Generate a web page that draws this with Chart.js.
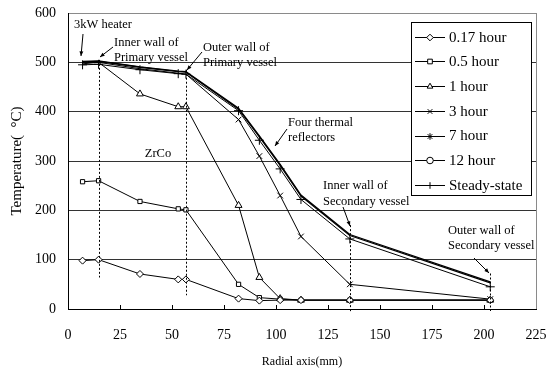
<!DOCTYPE html>
<html>
<head>
<meta charset="utf-8">
<script src="https://cdn.jsdelivr.net/npm/chart.js@4.4.0/dist/chart.umd.min.js"></script>
<style>
  html, body { margin: 0; padding: 0; background: #fff; }
  #wrap { width: 548px; height: 369px; }
</style>
</head>
<body>
<div id="wrap"><canvas id="chart" width="548" height="369"></canvas></div>
<script>
// radial position of every measuring point (mm)
const radius = [7, 14.7, 34.6, 53, 56.7, 82, 92, 102, 112, 135.5, 203];

// temperatures (deg C) per time step
const t017 = [98, 100, 71, 60, 60, 21, 17, 18, 18, 18, 18];
const t05 = [258, 260, 218, 203, 201, 50, 23, 20, 18, 18, 18];
const t1 = [500, 500, 436, 410, 410, 210, 64, 21, 18, 18, 18];
const t3 = [497, 500, 487, 478, 476, 384, 310, 230, 147, 50, 20];
const t7 = [502, 503, 491, 482, 481, 407, 351, 293, 231, 151, 55];
const t12 = [501, 502, 490, 481, 480, 405, 349, 291, 229, 149, 53];
const tSteady = [495, 496, 485, 477, 476, 402, 342, 284, 222, 142, 45];

const seriesNames = ['0.17 hour', '0.5 hour', '1 hour', '3 hour', '7 hour', '12 hour', 'Steady-state'];
const xTicks = [0, 25, 50, 75, 100, 125, 150, 175, 200, 225];
const yTicks = [0, 100, 200, 300, 400, 500, 600];

// vessel walls (mm) for the dotted guide lines
const wallPos = [14.7, 56.7, 135.5, 203];

const SERIF = '"Liberation Serif", "Times New Roman", serif';
const allValues = [t017, t05, t1, t3, t7, t12, tSteady];

// marker look per series: [style, radius, hidden markers at start]
const looks = [
  ['rectRot', 3.5, 0],
  ['rect', 3, 0],
  ['triangle', 4, 2],
  ['crossRot', 4, 5],
  ['star', 0, 99],
  ['circle', 0, 99],
  ['cross', 4.5, 0],
];

const datasets = allValues.map((vals, i) => ({
  label: seriesNames[i],
  data: radius.map((r, k) => ({ x: r, y: vals[k] })),
  borderColor: '#000',
  borderWidth: (i === 4 || i === 5) ? 1.3 : 1,
  backgroundColor: '#fff',
  pointStyle: looks[i][0],
  pointRadius: (c) => c.dataIndex < looks[i][2] ? 0 : looks[i][1],
  pointBorderColor: '#000',
  pointBorderWidth: 1,
  pointBackgroundColor: '#fff',
  tension: 0,
}));

function arrow(ctx, x1, y1, x2, y2) {
  ctx.beginPath();
  ctx.moveTo(x1, y1);
  ctx.lineTo(x2, y2);
  ctx.stroke();
  const a = Math.atan2(y2 - y1, x2 - x1);
  ctx.beginPath();
  ctx.moveTo(x2, y2);
  ctx.lineTo(x2 - 5 * Math.cos(a - 0.4), y2 - 5 * Math.sin(a - 0.4));
  ctx.lineTo(x2 - 5 * Math.cos(a + 0.4), y2 - 5 * Math.sin(a + 0.4));
  ctx.closePath();
  ctx.fill();
}

const decor = {
  id: 'decor',
  afterDraw(chart) {
    const { ctx, chartArea: a, scales: { x, y } } = chart;
    ctx.save();

    // right frame line
    ctx.strokeStyle = '#8a8a8a';
    ctx.lineWidth = 1;
    ctx.beginPath();
    ctx.moveTo(Math.round(a.right) + 0.5, a.top);
    ctx.lineTo(Math.round(a.right) + 0.5, a.bottom);
    ctx.stroke();

    // inside tick marks on x axis
    ctx.strokeStyle = '#000';
    xTicks.slice(1, -1).forEach(v => {
      const px = Math.round(x.getPixelForValue(v)) + 0.5;
      ctx.beginPath();
      ctx.moveTo(px, a.bottom);
      ctx.lineTo(px, a.bottom - 4);
      ctx.stroke();
    });

    // dotted wall guides
    const wallTop = [505, 485, 170, 72];
    const wallBottom = [64, 28, -6, -4];
    ctx.setLineDash([2, 2]);
    wallPos.forEach((w, i) => {
      const px = Math.round(x.getPixelForValue(w)) + 0.5;
      ctx.beginPath();
      ctx.moveTo(px, y.getPixelForValue(wallTop[i]));
      ctx.lineTo(px, y.getPixelForValue(wallBottom[i]));
      ctx.stroke();
    });
    ctx.setLineDash([]);

    // annotation texts
    ctx.fillStyle = '#000';
    ctx.font = '12.5px ' + SERIF;
    ctx.textBaseline = 'middle';
    ctx.textAlign = 'left';
    const notes = [
      ['3kW heater', 74, 25],
      ['Inner wall of', 114, 43],
      ['Primary vessel', 114, 58],
      ['Outer wall of', 203, 48],
      ['Primary vessel', 203, 63],
      ['Four thermal', 288, 123],
      ['reflectors', 288, 138],
      ['Inner wall of', 323, 186],
      ['Secondary vessel', 323, 202],
      ['Outer wall of', 448, 231],
      ['Secondary vessel', 448, 246],
    ];
    notes.forEach(n => ctx.fillText(n[0], n[1], n[2]));
    ctx.textAlign = 'center';
    ctx.fillText('ZrCo', 158, 154);

    ctx.lineWidth = 1;
    arrow(ctx, 83, 34, 81, 56);
    arrow(ctx, 113, 47, 100, 57);
    arrow(ctx, 202, 52, 187, 70);
    arrow(ctx, 287, 129, 275, 146);
    arrow(ctx, 343, 207, 350, 226);
    arrow(ctx, 474, 258, 489, 273);

    // legend box inside the plot
    const lx = 411, ly = 22, lw = 120, lh = 173;
    ctx.fillStyle = '#fff';
    ctx.fillRect(lx, ly, lw, lh);
    ctx.strokeStyle = '#000';
    ctx.strokeRect(lx + 0.5, ly + 0.5, lw, lh);
    ctx.font = '15px ' + SERIF;
    ctx.textAlign = 'left';
    seriesNames.forEach((name, i) => {
      const cy = ly + 14.7 + i * 24.7;
      ctx.strokeStyle = '#000';
      ctx.lineWidth = 1;
      ctx.beginPath();
      ctx.moveTo(415, Math.round(cy) + 0.5);
      ctx.lineTo(445, Math.round(cy) + 0.5);
      ctx.stroke();
      ctx.fillStyle = '#fff';
      Chart.helpers.drawPoint(ctx, {
        pointStyle: looks[i][0], radius: 3.3, rotation: 0, borderWidth: 1
      }, 430, Math.round(cy) + 0.5);
      ctx.fillStyle = '#000';
      ctx.fillText(name, 449, cy + 1);
    });

    ctx.restore();
  }
};

new Chart(document.getElementById('chart'), {
  type: 'line',
  data: { datasets },
  options: {
    responsive: false,
    animation: false,
    layout: { padding: { top: 13, right: 12, left: 0, bottom: 0 } },
    plugins: {
      legend: { display: false },
      tooltip: { enabled: false },
    },
    scales: {
      x: {
        type: 'linear',
        min: 0,
        max: 225,
        afterBuildTicks: (s) => { s.ticks = xTicks.map(v => ({ value: v })); },
        afterFit: (s) => { s.height = 60; s.paddingLeft = 0; s.paddingRight = 0; },
        grid: { display: false, drawTicks: false },
        border: { display: true, color: '#000', width: 1 },
        ticks: { color: '#000', padding: 18, font: { family: SERIF, size: 14 } },
        title: {
          display: true, text: 'Radial axis(mm)', color: '#000',
          padding: 0, font: { family: SERIF, size: 12 }
        },
      },
      y: {
        min: 0,
        max: 600,
        afterBuildTicks: (s) => { s.ticks = yTicks.map(v => ({ value: v })); },
        afterFit: (s) => { s.width = 68; s.paddingTop = 0; s.paddingBottom = 0; },
        grid: {
          drawTicks: false,
          color: (c) => c.tick.value === 600 ? '#8a8a8a' : (c.tick.value === 0 ? 'rgba(0,0,0,0)' : '#333'),
        },
        border: { display: true, color: '#000', width: 1 },
        ticks: { color: '#000', padding: 12, font: { family: SERIF, size: 14 } },
        title: {
          display: true, text: 'Temperature(  °C)', color: '#000',
          padding: { top: 8, bottom: 0 }, font: { family: SERIF, size: 15 }
        },
      },
    },
  },
  plugins: [decor],
});
</script>
</body>
</html>
